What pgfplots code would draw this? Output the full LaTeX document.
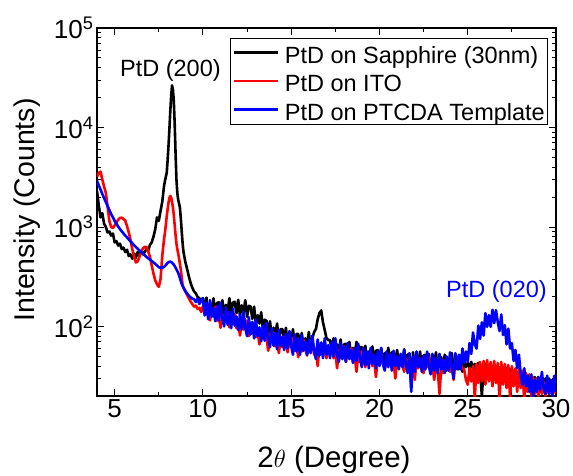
\documentclass[border=0pt]{standalone}
\usepackage{fontspec}
\setmainfont{Liberation Sans}
\usepackage{pgfplots}
\usepackage{pgfplotstable}
\pgfplotsset{compat=1.18}
\usetikzlibrary{calc}

% x, k = sapphire (black), r = ITO (red), b = PTCDA template (blue)
\pgfplotstableread{
x k r b
4.0 2300 3200 2900
4.1 1650 3500 2620
4.2 1250 3600 2380
4.3 1380 3000 2150
4.4 1080 2550 1950
4.5 1000 2200 1780
4.6 880 1600 1620
4.7 900 1150 1480
4.8 820 1000 1350
4.9 860 975 1250
5.0 700 1040 1150
5.1 720 1110 1080
5.2 650 1180 1010
5.3 680 1230 955
5.4 600 1240 905
5.5 620 1200 860
5.6 560 1160 820
5.7 590 1020 785
5.8 510 880 750
5.9 530 740 715
6.0 480 600 685
6.1 540 500 655
6.2 490 440 630
6.3 560 450 605
6.4 510 500 580
6.5 580 560 560
6.6 530 610 540
6.7 560 630 520
6.8 600 630 500
6.9 580 570 485
7.0 660 500 470
7.1 700 410 455
7.2 800 340 440
7.3 950 290 425
7.4 1250 265 410
7.5 1150 250 395
7.6 1450 300 388
7.7 1800 520 390
7.8 2600 760 398
7.85 2900 880 405
7.9 3200 1050 415
7.95 3500 1280 425
8.0 4700 1500 435
8.05 6500 1750 442
8.1 9500 1950 447
8.15 14500 2050 448
8.2 20500 1980 444
8.25 26500 1800 438
8.3 24000 1580 428
8.35 18500 1320 418
8.4 11000 1050 405
8.45 5500 830 390
8.5 3000 680 375
8.55 2200 600 360
8.6 1870 540 345
8.65 1720 480 325
8.7 1550 420 305
8.75 1200 370 285
8.8 900 310 268
8.85 680 260 255
8.9 560 245 245
9.0 450 225 228
9.1 380 208 215
9.2 320 192 204
9.3 275 178 196
9.4 245 168 190
9.5 225 158 188
9.6 215 162 176
9.7 198 150 190
9.8 192 154 168
9.9 180 140 182
10.0 193 160 192
10.1 144 133 129
10.2 195 169 172
10.3 133 136 118
10.4 168 115 184
10.5 142 152 125
10.6 192 126 154
10.7 131 158 113
10.8 172 114 161
10.9 175 130 115
11.0 134 97 173
11.1 184 133 120
11.2 129 111 100
11.3 165 142 155
11.4 142 114 104
11.5 193 98 140
11.6 133 129 96
11.7 174 106 150
11.8 177 133 102
11.9 136 96 126
12.0 185 109 92
12.1 128 81 131
12.2 163 111 93
12.3 138 93 140
12.4 184 118 96
12.5 125 95 80
12.6 161 80 124
12.7 159 106 83
12.8 119 87 111
12.9 158 109 76
13.0 106 78 118
13.1 130 88 80
13.2 107 66 98
13.3 139 89 71
13.4 92 75 102
13.5 117 95 72
13.6 114 76 108
13.7 85 57 75
13.8 113 85 62
13.9 77 70 96
14.0 97 87 64
14.1 81 63 86
14.2 107 72 59
14.3 73 54 93
14.4 94 74 64
14.5 94 62 79
14.6 71 79 58
14.7 97 65 84
14.8 66 55 60
14.9 83 74 90
15.0 70 62 63
15.1 94 77 52
15.2 64 57 83
15.3 84 65 56
15.4 84 49 76
15.5 64 67 52
15.6 86 56 82
15.7 60 73 57
15.8 76 59 70
15.9 65 51 52
16.0 88 67 74
16.1 60 56 54
16.2 76 71 81
16.3 88 52 57
16.4 94 59 47
16.5 118 40 74
16.6 136 62 51
16.7 145 53 69
16.8 110 67 48
16.9 92 55 76
17.0 76 48 52
17.1 73 63 65
17.2 73 53 48
17.3 56 67 70
17.4 76 48 50
17.5 52 56 76
17.6 66 38 52
17.7 56 58 44
17.8 74 48 68
17.9 51 63 47
18.0 66 50 63
18.1 67 44 44
18.2 51 58 68
18.3 70 48 47
18.4 48 60 58
18.5 61 44 43
18.6 51 50 61
18.7 70 35 45
18.8 47 52 67
18.9 62 44 47
19.0 62 56 39
19.1 47 46 61
19.2 64 39 41
19.3 44 53 56
19.4 56 43 38
19.5 48 55 61
19.6 63 40 42
19.7 44 46 52
19.8 57 31 38
19.9 58 48 56
20.0 45 41 40
20.1 60 53 61
20.2 42 42 42
20.3 54 37 36
20.4 45 49 56
20.5 61 41 39
20.6 42 53 53
20.7 55 38 36
20.8 55 44 57
20.9 42 30 40
21.0 58 46 50
21.1 40 39 37
21.2 50 51 53
21.3 43 41 39
21.4 59 35 58
21.5 40 47 41
21.6 52 40 34
21.7 53 50 54
21.8 24 37 22
21.9 55 43 50
22.0 39 29 35
22.1 49 45 56
22.2 41 38 39
22.3 56 48 48
22.4 39 40 35
22.5 51 34 51
22.6 52 46 37
22.7 40 39 56
22.8 53 49 40
22.9 37 36 33
23.0 47 42 53
23.1 41 29 36
23.2 55 43 48
23.3 38 37 34
23.4 50 21 53
23.5 49 39 37
23.6 38 34 46
23.7 52 45 34
23.8 36 38 50
23.9 46 48 36
24.0 40 35 55
24.1 54 41 39
24.2 37 29 30
24.3 48 45 54
24.4 49 39 37
24.5 37 51 52
24.6 51 42 37
24.7 35 38 60
24.8 45 37 43
24.9 39 29 56
25.0 43 26 44
25.1 39 38 68
25.2 44 28 53
25.3 37 40 87
25.4 42 19 66
25.5 38 42 60
25.6 43 27 102
25.7 36 44 75
25.8 20 28 110
25.9 37 45 81
26.0 42 26 136
26.1 35 46 99
26.2 41 28 130
26.3 37 44 99
26.4 40 25 147
26.5 36 45 108
26.6 40 27 146
26.7 35 43 111
26.8 39 18 90
26.9 34 44 132
27.0 39 26 82
27.1 33 42 103
27.2 38 24 66
27.3 33 41 95
27.4 37 19 60
27.5 32 40 68
27.6 36 25 45
27.7 31 38 58
27.8 35 22 38
27.9 30 37 52
28.0 34 24 33
28.1 29 36 26
28.2 33 18 38
28.3 29 34 25
28.4 32 22 32
28.5 28 33 22
28.6 32 20 33
28.7 28 31 19
28.8 31 21 29
28.9 27 30 22
29.0 31 20 31
29.1 27 29 23
29.2 30 21 35
29.3 27 28 24
29.4 30 20 21
29.5 26 28 32
29.6 30 21 21
29.7 26 27 29
29.8 29 20 20
29.9 26 27 32
30.0 29 21 22
}\data

\begin{document}
\begin{tikzpicture}
\begin{axis}[
  name=ax,
  scale only axis,
  width=459pt, height=368pt,
  xmin=4, xmax=30,
  ymode=log, ymin=20, ymax=100000,
  xtick={5,10,15,20,25,30},
  minor x tick num=1,
  ytick={100,1000,10000,100000},
  yticklabels={10\textsuperscript{2},10\textsuperscript{3},10\textsuperscript{4},10\textsuperscript{5}},
  minor ytick={20,30,40,50,60,70,80,90,200,300,400,500,600,700,800,900,2000,3000,4000,5000,6000,7000,8000,9000,20000,30000,40000,50000,60000,70000,80000,90000},
  tick align=inside,
  major tick length=7pt,
  minor tick length=4pt,
  every tick/.style={black, line width=0.9pt},
  axis line style={black, line width=1.2pt},
  /pgf/number format/assume math mode=true,
  tick label style={font=\fontsize{26}{30}\selectfont},
  legend cell align=left,
  legend style={at={(rel axis cs:0.9804,0.9728)}, anchor=north east,
    draw=black, fill=white,
    inner sep=0pt, inner xsep=2pt,
    row sep=0pt,
    font=\fontsize{23.5}{28}\selectfont,
    nodes={inner sep=0pt, text height=25pt, text depth=3.5pt},
    /tikz/every odd column/.append style={column sep=6pt}},
  legend image code/.code={\draw[#1] (0pt,0pt) -- (44pt,0pt);},
]
\addplot[forget plot, draw=black, line width=2.6pt, line join=round] table[x=x, y=k] {\data};
\addplot[forget plot, draw=red, line width=2.6pt, line join=round] table[x=x, y=r] {\data};
\addplot[forget plot, draw=blue, line width=2.6pt, line join=round] table[x=x, y=b] {\data};
\addlegendimage{draw=black, line width=2.6pt}
\addlegendentry{PtD on Sapphire (30nm)}
\addlegendimage{draw=red, line width=2.6pt}
\addlegendentry{PtD on ITO}
\addlegendimage{draw=blue, line width=2.6pt}
\addlegendentry{PtD on PTCDA Template}
\node[anchor=base, font=\fontsize{23.5}{28}\selectfont] at (axis cs:8.16,32700) {PtD (200)};
\node[anchor=base, text=blue, font=\fontsize{23.5}{28}\selectfont] at (axis cs:26.63,195) {PtD (020)};
\end{axis}
\node[rotate=90, anchor=center, font=\fontsize{28.5}{32}\selectfont] at ($(ax.south west)+(-70pt,186pt)$) {Intensity (Counts)};
\node[anchor=base, font=\fontsize{29.5}{33}\selectfont] at ($(ax.south west)+(237pt,-71pt)$) {2$\theta$ (Degree)};
\pgfresetboundingbox
\path ($(ax.south west)+(-97pt,-79pt)$) rectangle ($(ax.south west)+(476pt,396pt)$);
\end{tikzpicture}
\end{document}
